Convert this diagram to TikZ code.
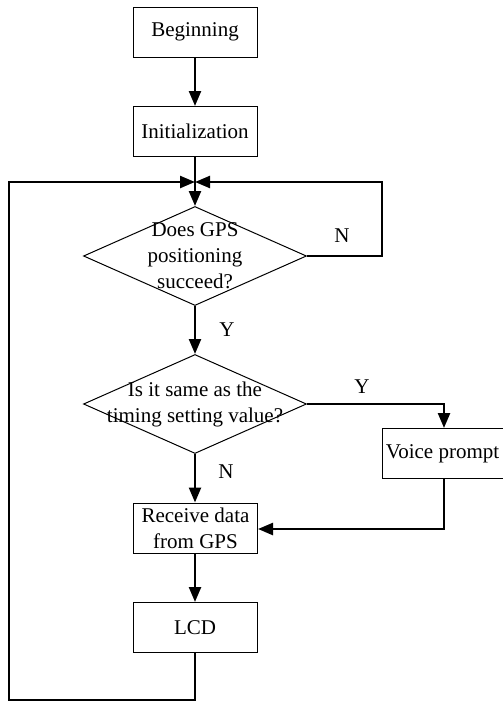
\documentclass[tikz,border=0pt]{standalone}
\usepackage{fontspec}
\setmainfont{Liberation Serif}
\usetikzlibrary{shapes.geometric,arrows.meta}
\tikzset{
  boxnode/.style={draw, line width=1pt, minimum width=124pt, minimum height=50pt, inner sep=0pt, align=center},
  decnode/.style={draw, line width=1pt, shape=diamond, inner sep=0pt, minimum width=223pt, minimum height=99pt},
  flow/.style={line width=2.4pt, -{Triangle[length=15pt,width=12pt]}},
  lbl/.style={inner sep=0pt}
}
\begin{document}
\begin{tikzpicture}[x=1pt,y=-1pt,font=\fontsize{21pt}{26pt}\selectfont]
\useasboundingbox (0,0) rectangle (503,702);
\node[boxnode] (begin) at (195,32) {Beginning};
\node[boxnode] (init) at (195,131.5) {Initialization};
\coordinate (J) at (195,182);
\node[decnode, label={[align=center,lbl]center:Does GPS\\positioning\\succeed?}] (d1) at (195,256) {};
\node[decnode, label={[align=center,lbl]center:Is it same as the\\timing setting value?}] (d2) at (195,404) {};
\node[boxnode, minimum width=121pt] (voice) at (442.5,453.5) {Voice prompt};
\node[boxnode] (recv) at (195.5,528) {Receive data\\from GPS};
\node[boxnode] (lcd) at (195,627.5) {LCD};
\coordinate (rtop) at (382,182);
\coordinate (rbot) at (382,256);
\coordinate (ltop) at (9,182);
\coordinate (lbot) at (9,700);
\coordinate (cbot) at (195,700);
\coordinate (vturn) at (444,404);
\coordinate (vdown) at (444,529);
\node[lbl] (n1) at (342,236) {N};
\node[lbl] (y1) at (227,330) {Y};
\node[lbl] (y2) at (362,387) {Y};
\node[lbl] (n2) at (226,472) {N};
\draw[flow] (begin) -- (init);
\draw[flow] (init) -- (d1.north);
\draw[flow] (d1.east) -- (rbot) -- (rtop) -- (J);
\draw[flow] (lcd.south) -- (cbot) -- (lbot) -- (ltop) -- (J);
\draw[flow] (d1.south) -- (d2.north);
\draw[flow] (d2.east) -- (vturn) -- (voice.north -| vturn);
\draw[flow] (d2.south) -- (recv.north -| d2.south);
\draw[flow] (voice.south -| vdown) -- (vdown) -- (recv.east |- vdown);
\draw[flow] (recv.south -| lcd.north) -- (lcd.north);
\end{tikzpicture}
\end{document}
